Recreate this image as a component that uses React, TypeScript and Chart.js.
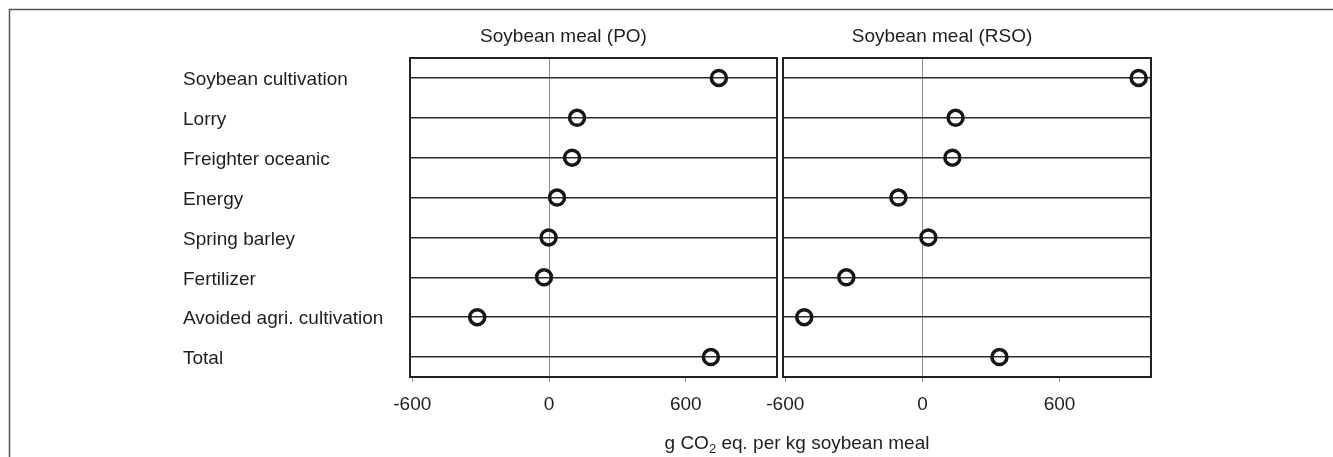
import React, { useEffect, useRef } from "react";
import { Chart, registerables } from "chart.js";

Chart.register(...registerables);

const CATEGORIES = [
  "Soybean cultivation",
  "Lorry",
  "Freighter oceanic",
  "Energy",
  "Spring barley",
  "Fertilizer",
  "Avoided agri. cultivation",
  "Total",
];
const PO_VALUES = [745, 123, 101, 35, -2, -22, -315, 710];
const RSO_VALUES = [946, 145, 131, -105, 26, -333, -517, 337];
const X_TICKS = [-600, 0, 600];
const X_MIN = -610;
const X_MAX = 1000;
const PANEL_TITLES = ["Soybean meal (PO)", "Soybean meal (RSO)"];
const AXIS_TITLE_PARTS = ["g CO", "2", " eq. per kg soybean meal"];

const W = 1333;
const H = 457;
const FONT = "'Liberation Sans', Arial, sans-serif";
const TEXT = "#1e1e1e";

const decor = {
  id: "decor",
  afterDraw(chart: any, _args: any, opts: any) {
    const { ctx, chartArea: a } = chart;
    ctx.save();
    if (opts.frame) {
      ctx.strokeStyle = "#555";
      ctx.lineWidth = 1.5;
      ctx.beginPath();
      ctx.moveTo(9.5, H);
      ctx.lineTo(9.5, 9.5);
      ctx.lineTo(W, 9.5);
      ctx.stroke();
    }
    ctx.strokeStyle = "#222";
    ctx.lineWidth = 2;
    ctx.strokeRect(a.left, a.top, a.right - a.left, a.bottom - a.top);

    ctx.fillStyle = TEXT;
    ctx.font = `19px ${FONT}`;
    ctx.textAlign = "center";
    ctx.textBaseline = "middle";
    ctx.fillText(opts.title, (a.left + a.right) / 2 + opts.titleShift, 37);

    if (opts.axisTitle) {
      const big = `19px ${FONT}`;
      const small = `13px ${FONT}`;
      ctx.textAlign = "left";
      ctx.textBaseline = "alphabetic";
      ctx.font = big;
      const w1 = ctx.measureText(AXIS_TITLE_PARTS[0]).width;
      const w3 = ctx.measureText(AXIS_TITLE_PARTS[2]).width;
      ctx.font = small;
      const w2 = ctx.measureText(AXIS_TITLE_PARTS[1]).width;
      let x = opts.axisTitleX - (w1 + w2 + w3) / 2;
      const y = 449;
      ctx.font = big;
      ctx.fillText(AXIS_TITLE_PARTS[0], x, y);
      x += w1;
      ctx.font = small;
      ctx.fillText(AXIS_TITLE_PARTS[1], x, y + 4);
      x += w2;
      ctx.font = big;
      ctx.fillText(AXIS_TITLE_PARTS[2], x, y);
    }
    ctx.restore();
  },
};

function makeConfig(values: number[], panel: number): any {
  const first = panel === 0;
  return {
    type: "line",
    data: {
      labels: CATEGORIES,
      datasets: [
        {
          data: values,
          showLine: false,
          pointRadius: 7.5,
          pointHoverRadius: 7.5,
          pointBorderWidth: 3.5,
          pointBorderColor: "#161616",
          pointBackgroundColor: "rgba(0,0,0,0)",
          borderColor: "#161616",
          clip: false,
        },
      ],
    },
    plugins: [decor],
    options: {
      responsive: false,
      animation: false,
      indexAxis: "y",
      layout: {
        padding: first
          ? { left: 183, right: W - 777, top: 58, bottom: 0 }
          : { left: 783, right: W - 1151, top: 58, bottom: 0 },
      },
      plugins: {
        legend: { display: false },
        tooltip: { enabled: false },
        decor: {
          title: PANEL_TITLES[panel],
          titleShift: first ? -30 : -25,
          frame: first,
          axisTitle: !first,
          axisTitleX: 797,
        },
      },
      scales: {
        x: {
          type: "linear",
          min: X_MIN,
          max: X_MAX,
          afterBuildTicks: (s: any) => {
            s.ticks = X_TICKS.map((v) => ({ value: v }));
          },
          afterFit: (s: any) => {
            s.height = 80;
          },
          ticks: {
            font: { family: FONT, size: 19 },
            color: TEXT,
            padding: 11,
            maxRotation: 0,
            autoSkip: false,
            callback: (v: any) => String(v),
          },
          grid: {
            color: (c: any) =>
              c.tick && c.tick.value === 0 ? "#8c8c8c" : "rgba(0,0,0,0)",
            tickColor: "#8c8c8c",
            lineWidth: 1,
            tickLength: 5,
          },
          border: { display: false },
        },
        y: {
          type: "category",
          offset: true,
          afterFit: (s: any) => {
            s.width = first ? 410 - 183 : 0;
          },
          ticks: {
            display: first,
            crossAlign: "far",
            font: { family: FONT, size: 19 },
            color: TEXT,
            padding: 0,
            labelOffset: 2,
          },
          grid: {
            color: "#2b2b2b",
            lineWidth: 1.6,
            drawTicks: false,
          },
          border: { display: false },
        },
      },
    },
  };
}

export default function App() {
  const refA = useRef<HTMLCanvasElement | null>(null);
  const refB = useRef<HTMLCanvasElement | null>(null);

  useEffect(() => {
    const a = new Chart(refA.current as HTMLCanvasElement, makeConfig(PO_VALUES, 0));
    const b = new Chart(refB.current as HTMLCanvasElement, makeConfig(RSO_VALUES, 1));
    return () => {
      a.destroy();
      b.destroy();
    };
  }, []);

  const canvasStyle: React.CSSProperties = {
    position: "absolute",
    left: 0,
    top: 0,
    width: W,
    height: H,
  };

  return (
    <div
      style={{
        position: "absolute",
        left: 0,
        top: 0,
        width: W,
        height: H,
        background: "#fff",
        overflow: "hidden",
      }}
    >
      <canvas ref={refA} width={W} height={H} style={canvasStyle} />
      <canvas ref={refB} width={W} height={H} style={canvasStyle} />
    </div>
  );
}
